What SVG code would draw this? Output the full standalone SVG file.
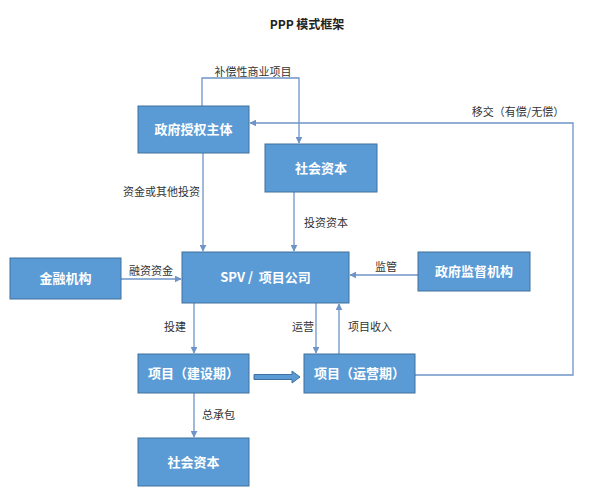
<svg xmlns="http://www.w3.org/2000/svg" width="600" height="503" viewBox="0 0 600 503">
<style>
.box{fill:#5B9BD5;stroke:#41719C;stroke-width:1}
.bt{fill:#fff;font-family:"Noto Sans CJK SC","Liberation Sans",sans-serif;font-size:13px;font-weight:bold;text-anchor:middle}
.lb{fill:#333;font-family:"Noto Sans CJK SC","Liberation Sans",sans-serif;font-size:11px}
.ln{fill:none;stroke:#6E94C8;stroke-width:1.3}
</style>
<defs>
<marker id="ah" viewBox="0 0 10 10" refX="9" refY="5" markerWidth="7" markerHeight="7" orient="auto" markerUnits="userSpaceOnUse">
<path d="M0,0 L10,5 L0,10 z" fill="#6E94C8"/>
</marker>
</defs>
<rect width="600" height="503" fill="#fff"/>
<text x="307" y="29" font-family="'Noto Sans CJK SC','Liberation Sans',sans-serif" font-size="12" font-weight="bold" fill="#222" text-anchor="middle">PPP 模式框架</text>
<g id="connectors">
<polyline class="ln" points="202,106 202,78 299,78 299,143" marker-end="url(#ah)"/>
<text class="lb" x="253" y="76" text-anchor="middle">补偿性商业项目</text>
<polyline class="ln" points="415,375 573,375 573,123 250,123" marker-end="url(#ah)"/>
<text class="lb" x="518" y="116" text-anchor="middle">移交（有偿/无偿）</text>
<line class="ln" x1="203" y1="153" x2="203" y2="251" marker-end="url(#ah)"/>
<text class="lb" x="200" y="196" text-anchor="end">资金或其他投资</text>
<line class="ln" x1="294" y1="192" x2="294" y2="251" marker-end="url(#ah)"/>
<text class="lb" x="304" y="227">投资资本</text>
<line class="ln" x1="121" y1="279" x2="181" y2="279" marker-end="url(#ah)"/>
<text class="lb" x="129" y="275">融资资金</text>
<line class="ln" x1="418" y1="275" x2="350" y2="275" marker-end="url(#ah)"/>
<text class="lb" x="375" y="271">监管</text>
<line class="ln" x1="194" y1="303" x2="194" y2="353" marker-end="url(#ah)"/>
<text class="lb" x="164" y="331">投建</text>
<line class="ln" x1="316" y1="303" x2="316" y2="353" marker-end="url(#ah)"/>
<text class="lb" x="292" y="331">运营</text>
<line class="ln" x1="339" y1="354" x2="339" y2="304" marker-end="url(#ah)"/>
<text class="lb" x="348" y="331">项目收入</text>
<line class="ln" x1="194" y1="393" x2="194" y2="437" marker-end="url(#ah)"/>
<text class="lb" x="202" y="419">总承包</text>
<path d="M254,374.5 L292,374.5 L292,371 L300,377 L292,383 L292,379.5 L254,379.5 z" fill="#5B9BD5" stroke="#41719C" stroke-width="1"/>
</g>
<g id="gov"><rect class="box" x="138" y="106" width="111" height="47"/><text class="bt" x="193.5" y="134">政府授权主体</text></g>
<g id="social1"><rect class="box" x="265" y="144" width="112" height="48"/><text class="bt" x="321" y="173">社会资本</text></g>
<g id="finance"><rect class="box" x="10" y="258" width="111" height="41"/><text class="bt" x="65.5" y="283">金融机构</text></g>
<g id="spv"><rect class="box" x="182" y="252" width="167" height="51"/><text class="bt" x="265.5" y="282">SPV /&#160; 项目公司</text></g>
<g id="supervise"><rect class="box" x="418" y="252" width="112" height="39"/><text class="bt" x="474" y="276">政府监督机构</text></g>
<g id="build"><rect class="box" x="138" y="354" width="111" height="39"/><text class="bt" x="193.5" y="378">项目（建设期）</text></g>
<g id="operate"><rect class="box" x="304" y="354" width="111" height="39"/><text class="bt" x="359.5" y="378">项目（运营期）</text></g>
<g id="social2"><rect class="box" x="138" y="438" width="111" height="48"/><text class="bt" x="193.5" y="467">社会资本</text></g>
</svg>
